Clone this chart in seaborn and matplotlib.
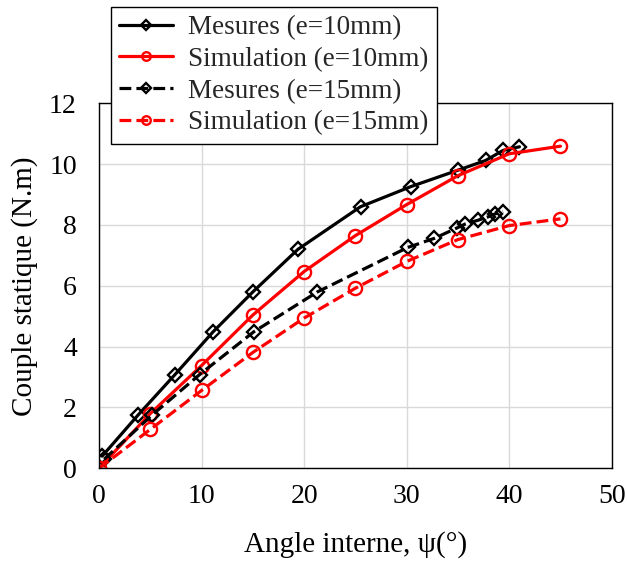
import matplotlib
matplotlib.use('Agg')
import matplotlib.pyplot as plt
import seaborn as sns
import pandas as pd

# measured / simulated static torque vs internal angle
mes10_x = [0.3, 3.8, 7.4, 11.1, 15.0, 19.4, 25.5, 30.4, 35.0, 37.7, 39.4, 41.0]
mes10_y = [0.40, 1.75, 3.08, 4.48, 5.80, 7.20, 8.60, 9.26, 9.80, 10.12, 10.45, 10.57]

sim10_x = [0, 5, 10, 15, 20, 25, 30, 35, 40, 45]
sim10_y = [0.0, 1.80, 3.38, 5.04, 6.47, 7.65, 8.67, 9.62, 10.34, 10.59]

mes15_x = [0.5, 5.2, 9.8, 15.1, 21.3, 30.1, 32.7, 34.9, 35.7, 37.0, 37.9, 38.6, 39.4]
mes15_y = [0.30, 1.76, 3.08, 4.49, 5.80, 7.26, 7.56, 7.90, 8.03, 8.16, 8.26, 8.36, 8.44]

sim15_x = [0, 5, 10, 15, 20, 25, 30, 35, 40, 45]
sim15_y = [0.0, 1.28, 2.56, 3.81, 4.94, 5.92, 6.80, 7.52, 7.98, 8.20]

sns.set_theme(style="whitegrid")
plt.rcParams['font.family'] = ['Liberation Serif', 'DejaVu Serif']

fig = plt.figure(figsize=(6.27, 5.62), dpi=100)
ax = fig.add_axes([0.158, 0.1667, 0.8176, 0.6495])

series = [
    ("Mesures (e=10mm)", mes10_x, mes10_y, "black", "-", "D", 7.5),
    ("Simulation (e=10mm)", sim10_x, sim10_y, "red", "-", "o", 9.5),
    ("Mesures (e=15mm)", mes15_x, mes15_y, "black", "--", "D", 7.5),
    ("Simulation (e=15mm)", sim15_x, sim15_y, "red", "--", "o", 9.5),
]
for label, xs, ys, col, ls, mk, ms in series:
    df = pd.DataFrame({"x": xs, "y": ys})
    sns.lineplot(data=df, x="x", y="y", ax=ax, color=col, linestyle=ls,
                 linewidth=2.3, marker=mk, markersize=ms,
                 markerfacecolor="none", markeredgecolor=col,
                 markeredgewidth=1.7, label=label, sort=False)

ax.set_xlim(0, 50)
ax.set_ylim(0, 12)
ax.set_xticks(range(0, 51, 10))
ax.set_yticks(range(0, 13, 2))
ax.grid(True, color="#d9d9d9", linewidth=1.0)
for s in ax.spines.values():
    s.set_color("black")
    s.set_linewidth(1.0)
ax.tick_params(length=0, labelsize=20, colors="black")
ax.tick_params(axis="x", pad=11)
ax.tick_params(axis="y", pad=16)
ax.set_xlabel("Angle interne, ψ(°)", fontsize=21, color="black", labelpad=16)
ax.set_ylabel("Couple statique (N.m)", fontsize=21, color="black", labelpad=8)

leg = ax.legend(loc="upper left", bbox_to_anchor=(0.177, 0.9875),
                bbox_transform=fig.transFigure, fontsize=19.5, frameon=True,
                fancybox=False, framealpha=1, edgecolor="black",
                borderaxespad=0, handlelength=2.0, handletextpad=0.55,
                labelspacing=0.25, borderpad=0.3, markerscale=0.65)
leg.get_frame().set_linewidth(1.0)

fig.savefig("out.png", dpi=100)
